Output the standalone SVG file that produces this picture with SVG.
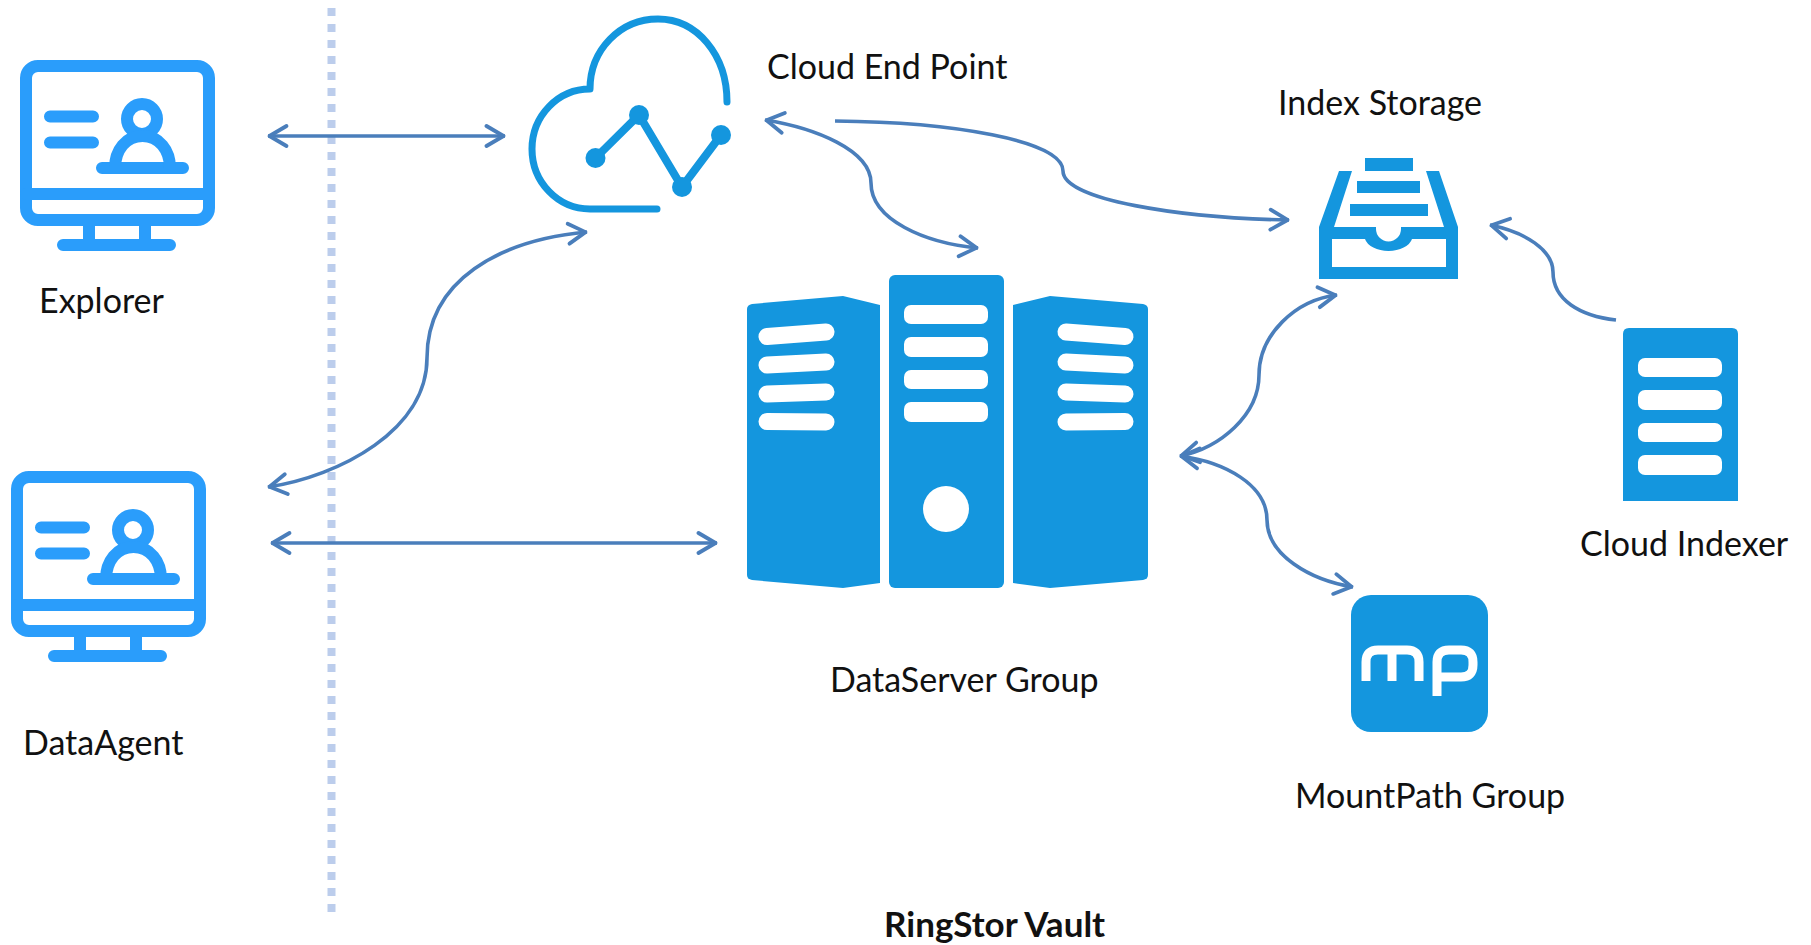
<svg xmlns="http://www.w3.org/2000/svg" width="1811" height="945" viewBox="0 0 1811 945">
<style>
.t{font-family:"Lato","Open Sans","Liberation Sans",sans-serif;font-size:34px;fill:#111}
.b{font-weight:700;font-size:35px}
.c{fill:none;stroke:#4a7ebb;stroke-width:3.600}
.m{fill:none;stroke:#2a9dfb;stroke-width:12;stroke-linecap:round}
.f{fill:#1496de}
.w{fill:#fff}
</style>
<defs>
<marker id="a" markerUnits="userSpaceOnUse" markerWidth="26" markerHeight="26" refX="21.500" refY="13" orient="auto-start-reverse" viewBox="0 0 26 26"><path d="M3 3 L20 13 L3 23" fill="none" stroke="#4a7ebb" stroke-width="3.800" stroke-linecap="round" stroke-linejoin="round"/></marker>
<g id="pc">
<rect class="m" x="26" y="66" width="183" height="154" rx="12"/>
<path class="m" d="M26 194H209M50 116.500H93M50 142.500H93M102 168H183M63 245H170" />
<path class="m" style="stroke-linecap:butt" d="M89 222V240M145 222V240"/>
<circle cx="142" cy="119" r="15" fill="none" stroke="#2a9dfb" stroke-width="12"/>
<path class="m" style="stroke-linecap:butt" d="M115 168C115 150 126 136 142.500 136C159 136 170 150 170 168"/>
</g>
</defs>
<path d="M331.500 8V912" fill="none" stroke="#bccdec" stroke-width="8" stroke-dasharray="8 8"/>
<g id="explorer"><use href="#pc"/><text class="t" x="39" y="313">Explorer</text></g>
<g id="dataagent"><use href="#pc" transform="translate(-9 411)"/><text class="t" x="23" y="755">DataAgent</text></g>
<g id="cloud">
<path d="M727 102C727 55 697 19 658 19C620 19 590 50 590 89A58 60 0 0 0 532 149A58 60 0 0 0 590 209H657" fill="none" stroke="#1496de" stroke-width="7" stroke-linecap="round" stroke-linejoin="round"/>
<path d="M595.500 158L639 115L682 187L721 135" fill="none" stroke="#1496de" stroke-width="8"/>
<circle class="f" cx="595.500" cy="158" r="10"/><circle class="f" cx="639" cy="115" r="10"/><circle class="f" cx="682" cy="187" r="10"/><circle class="f" cx="721" cy="135" r="10"/>
<text class="t" x="767" y="79">Cloud End Point</text>
</g>
<g id="server">
<rect class="f" x="889" y="275" width="115" height="313" rx="6"/>
<g class="w"><rect x="904" y="305" width="84" height="19" rx="7"/><rect x="904" y="337" width="84" height="20" rx="7"/><rect x="904" y="370" width="84" height="19" rx="7"/><rect x="904" y="402" width="84" height="20" rx="7"/><circle cx="946" cy="509" r="23"/></g>
<path class="f" d="M752 304L843 296L880 305V583L843 588L752 580Q747 579 747 575V309Q747 305 752 304Z"/>
<path class="f" d="M1143 304L1050 296L1013 305V583L1050 588L1143 580Q1148 579 1148 575V309Q1148 305 1143 304Z"/>
<g fill="none" stroke="#fff" stroke-width="17" stroke-linecap="round" stroke-linejoin="round"><path d="M767 336.500L826 332M767 365L826 362M767 394L826 392M767 421.500L826 422"/><path d="M1066 332L1125 336.500M1066 362L1125 365M1066 392L1125 394M1066 422L1125 421.500"/></g>
<text class="t" x="830" y="692">DataServer Group</text>
</g>
<g id="index">
<path class="f" d="M1365 158H1413V171H1365ZM1357 181H1420V193H1357ZM1350 204H1428V216H1350Z"/>
<path class="f" fill-rule="evenodd" d="M1339 171H1352L1334 227H1376V229A12.500 12.500 0 0 0 1401 229V227H1444L1426 171H1439L1458 227V279H1319V227ZM1332 239V267H1446V239H1412A24 15 0 0 1 1365 239Z"/>
<text class="t" x="1278" y="115">Index Storage</text>
</g>
<g id="mountpath">
<rect class="f" x="1351" y="595" width="137" height="137" rx="20"/>
<path d="M1366 681V662Q1366 650 1378 650H1407Q1419 650 1419 662V681M1392 650V681M1437 696V662Q1437 650 1449 650H1461Q1473 650 1473 662V665Q1473 677 1461 677H1437" fill="none" stroke="#fff" stroke-width="9"/>
<text class="t" x="1295" y="808">MountPath Group</text>
</g>
<g id="indexer">
<path class="f" d="M1623 501V334Q1623 328 1629 328H1732Q1738 328 1738 334V501Z"/>
<g class="w"><rect x="1638" y="358" width="84" height="19" rx="7"/><rect x="1638" y="390" width="84" height="20" rx="7"/><rect x="1638" y="423" width="84" height="19" rx="7"/><rect x="1638" y="455" width="84" height="20" rx="7"/></g>
<text class="t" x="1580" y="556">Cloud Indexer</text>
</g>
<text id="title" class="t b" x="884" y="937">RingStor Vault</text>
<g id="connectors">
<path class="c" marker-start="url(#a)" marker-end="url(#a)" d="M268 136H505"/>
<path class="c" marker-start="url(#a)" marker-end="url(#a)" d="M271 543H717"/>
<path class="c" marker-start="url(#a)" marker-end="url(#a)" d="M268 487C340 476 427 430 427 358C427 280 500 240 587 232"/>
<path class="c" marker-start="url(#a)" marker-end="url(#a)" d="M765 120C815 128 871 150 871 183C871 220 925 243 978 248"/>
<path class="c" marker-end="url(#a)" d="M835 121C950 122 1063 140 1063 171C1063 200 1180 218 1289 220"/>
<path class="c" marker-end="url(#a)" d="M1616 320C1580 316 1553 300 1553 272C1553 250 1525 232 1490 225"/>
<path class="c" marker-start="url(#a)" marker-end="url(#a)" d="M1337 295C1295 300 1259 335 1259 375C1259 415 1220 448 1180 456"/>
<path class="c" marker-start="url(#a)" marker-end="url(#a)" d="M1180 456C1225 462 1267 485 1267 520C1267 555 1310 580 1353 587"/>
</g>
</svg>
